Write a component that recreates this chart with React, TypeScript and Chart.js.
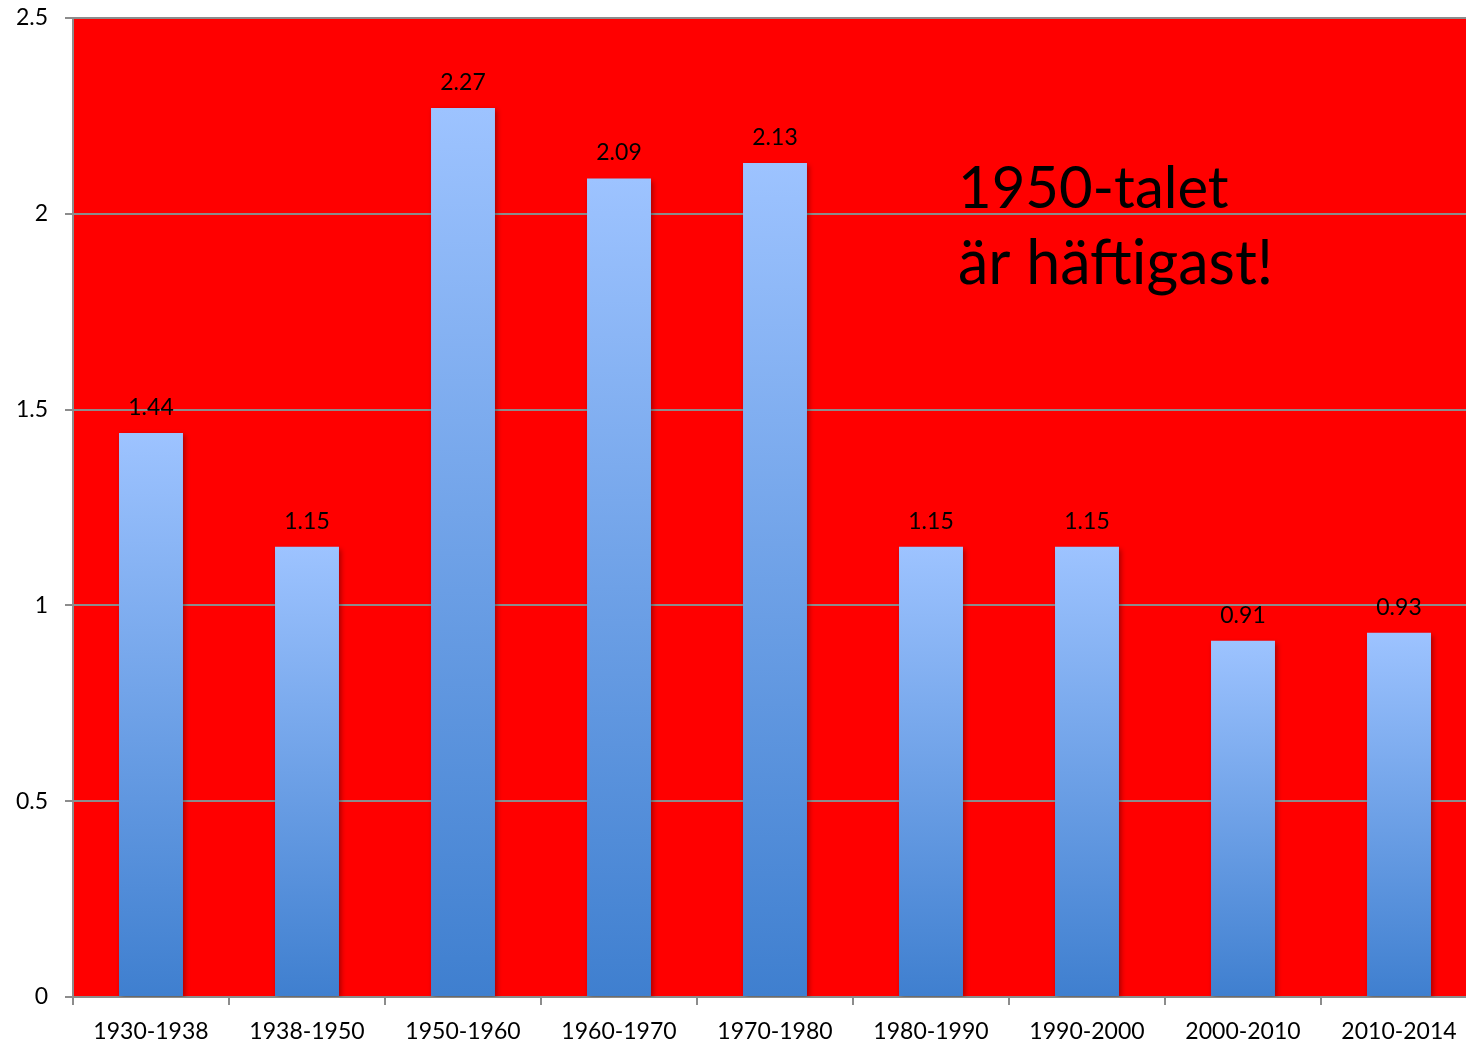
import React, { useEffect, useRef } from "react";
import { Chart, registerables } from "chart.js";

Chart.register(...registerables);

const categories = ["1930-1938", "1938-1950", "1950-1960", "1960-1970", "1970-1980", "1980-1990", "1990-2000", "2000-2010", "2010-2014"];
const values = [1.44, 1.15, 2.27, 2.09, 2.13, 1.15, 1.15, 0.91, 0.93];
const annotationLines = ["1950-talet", "är häftigast!"];

const FONT = "Lato, 'Open Sans', sans-serif";

export default function App() {
  const ref = useRef<HTMLCanvasElement | null>(null);
  useEffect(() => {
    if (!ref.current) return;
    const bgPlugin = {
      id: "bg",
      beforeDraw(chart: any) {
        const { ctx, chartArea } = chart;
        ctx.save();
        ctx.fillStyle = "#ff0000";
        ctx.fillRect(chartArea.left, chartArea.top, chartArea.right - chartArea.left, chartArea.bottom - chartArea.top);
        ctx.restore();
      },
      beforeDatasetDraw(chart: any) {
        const ctx = chart.ctx;
        ctx.save();
        ctx.shadowColor = "rgba(0,0,0,0.35)";
        ctx.shadowBlur = 5;
        ctx.shadowOffsetX = 2;
        ctx.shadowOffsetY = 2;
      },
      afterDatasetDraw(chart: any) {
        chart.ctx.restore();
      },
      afterDatasetsDraw(chart: any) {
        const ctx = chart.ctx;
        const meta = chart.getDatasetMeta(0);
        ctx.save();
        ctx.fillStyle = "#000";
        ctx.font = `23px ${FONT}`;
        ctx.textAlign = "center";
        ctx.textBaseline = "bottom";
        meta.data.forEach((bar: any, i: number) => {
          ctx.fillText(values[i].toFixed(2), bar.x, bar.y - 14);
        });
        ctx.textAlign = "left";
        ctx.textBaseline = "alphabetic";
        const x = chart.scales.x.getPixelForValue(5) + 27;
        ctx.font = `58px ${FONT}`;
        ctx.fillText(annotationLines[0], x, 208);
        ctx.font = `61px ${FONT}`;
        ctx.fillText(annotationLines[1], x, 284);
        ctx.restore();
      },
    };
    const chart = new Chart(ref.current, {
      type: "bar",
      data: {
        labels: categories,
        datasets: [
          {
            data: values,
            barPercentage: 0.41,
            categoryPercentage: 1,
            backgroundColor: (c: any) => {
              const ch = c.chart;
              const ys = ch.scales && ch.scales.y;
              if (!ch.chartArea || !ys || c.raw == null) return "#7ea8ec";
              const top = ys.getPixelForValue(c.raw);
              const bot = ys.getPixelForValue(0);
              const g = ch.ctx.createLinearGradient(0, top, 0, bot);
              g.addColorStop(0, "#9dc3ff");
              g.addColorStop(1, "#3f7fcf");
              return g;
            },
            borderWidth: 0,
          },
        ],
      },
      options: {
        animation: false,
        responsive: false,
        maintainAspectRatio: false,
        layout: { padding: { top: 18, right: 3, left: 0, bottom: 0 } },
        plugins: { legend: { display: false }, tooltip: { enabled: false } },
        scales: {
          x: {
            afterFit: (s: any) => { s.height = 47; s.paddingLeft = 0; s.paddingRight = 0; },
            grid: { drawOnChartArea: false, drawTicks: true, tickLength: 8, color: "#8c8c8c", lineWidth: 2, offset: true },
            border: { display: true, color: "#8c8c8c", width: 2 },
            ticks: { color: "#000", font: { family: FONT, size: 23 }, padding: 13, maxRotation: 0, autoSkip: false },
          },
          y: {
            min: 0,
            max: 2.5,
            afterFit: (s: any) => { s.width = 73; s.paddingTop = 0; s.paddingBottom = 0; },
            grid: { color: "#8c8c8c", lineWidth: 2, tickLength: 8 },
            border: { display: true, color: "#8c8c8c", width: 2 },
            ticks: { stepSize: 0.5, color: "#000", font: { family: FONT, size: 23 }, padding: 17, callback: (v: any) => String(v) },
          },
        },
      },
      plugins: [bgPlugin],
    });
    return () => chart.destroy();
  }, []);
  return (
    <div style={{ position: "fixed", left: 0, top: 0, width: 1466, height: 1044, background: "#fff", overflow: "hidden" }}>
      <canvas ref={ref} width={1480} height={1044} style={{ width: 1480, height: 1044, display: "block" }} />
    </div>
  );
}
